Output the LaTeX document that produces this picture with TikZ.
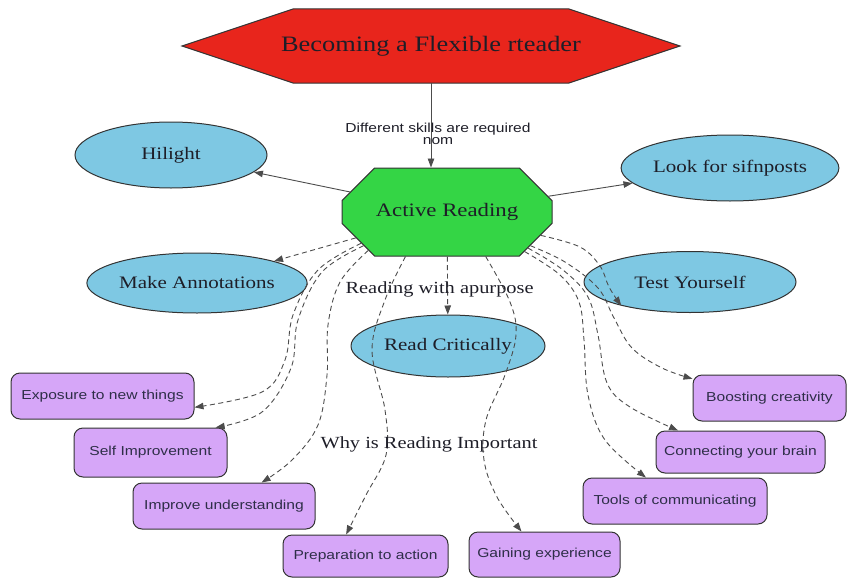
\documentclass[tikz,border=0pt]{standalone}
\usepackage{fontspec}
\newfontfamily\serifS{Liberation Serif}[FakeStretch=1.2]
\newfontfamily\sansS{Liberation Sans}[FakeStretch=1.2]
\usetikzlibrary{shapes.misc,shapes.geometric,arrows.meta}
\definecolor{hexred}{HTML}{E8251C}
\definecolor{octgreen}{HTML}{34D545}
\definecolor{ellblue}{HTML}{7EC8E3}
\definecolor{boxpur}{HTML}{D6A6F8}
\definecolor{outl}{HTML}{333333}
\definecolor{edgec}{HTML}{4C4C4C}
\definecolor{txt}{HTML}{1E1E28}
\definecolor{boxtxt}{HTML}{2E2E48}
\begin{document}
\begin{tikzpicture}[x=1pt,y=-1pt,
  ell/.style={ellipse, draw=outl, line width=1pt, fill=ellblue, inner sep=0pt,
    font=\serifS\fontsize{17.5}{20}\selectfont, text=txt},
  box/.style={rectangle, rounded corners=9pt, draw=outl, line width=1pt, fill=boxpur,
    inner sep=0pt, font=\sansS\fontsize{13}{15}\selectfont, text=boxtxt},
  sedge/.style={draw=edgec, line width=0.9pt, -{Triangle[length=9pt,width=6.5pt]}},
  dedge/.style={sedge, dash pattern=on 5pt off 3.5pt},
  serlab/.style={font=\serifS\fontsize{17}{19}\selectfont, text=txt, inner sep=0pt},
  sanslab/.style={font=\sansS\fontsize{13}{12}\selectfont, text=txt, align=center, inner sep=0pt},
  smoothp/.style={smooth, tension=0.6}
]
\useasboundingbox (0,0) rectangle (850,578);

% title hexagon
\filldraw[fill=hexred, draw=outl, line width=1pt]
  (182,46) -- (293,9) -- (569,9) -- (680,46) -- (569,83) -- (293,83) -- cycle;
\node[rectangle, minimum width=498pt, minimum height=74pt, inner sep=0pt,
  font=\serifS\fontsize{22}{24}\selectfont, text=txt] (title) at (431,46)
  {Becoming a Flexible rteader};
\node[chamfered rectangle, chamfered rectangle xsep=61pt, chamfered rectangle ysep=24pt,
  minimum width=210pt, minimum height=88pt, inner sep=0pt, draw=outl, line width=1pt,
  fill=octgreen, font=\serifS\fontsize{19}{21}\selectfont, text=txt] (ar) at (447,212)
  {Active Reading};

% ellipses
\node[ell, minimum width=192pt, minimum height=66pt] (hil) at (171,155) {Hilight};
\node[ell, minimum width=210pt, minimum height=66pt] (look) at (730,168) {Look for sifnposts};
\node[ell, minimum width=200pt, minimum height=60pt] (annot) at (197,283) {Make Annotations};
\node[ell, minimum width=212pt, minimum height=61pt] (test) at (690,282) {Test Yourself};
\node[ell, minimum width=194pt, minimum height=62pt] (rc) at (448,346) {Read Critically};

% boxes
\node[box, minimum width=183pt, minimum height=46pt] (expo) at (102.5,396) {Exposure to new things};
\node[box, minimum width=153pt, minimum height=49pt] (selfi) at (150.5,452.5) {Self Improvement};
\node[box, minimum width=182pt, minimum height=46pt] (impr) at (224,506) {Improve understanding};
\node[box, minimum width=165pt, minimum height=42pt] (prep) at (365.5,556) {Preparation to action};
\node[box, minimum width=151pt, minimum height=45pt] (gain) at (544.5,554.5) {Gaining experience};
\node[box, minimum width=184pt, minimum height=46pt] (tools) at (675,501) {Tools of communicating};
\node[box, minimum width=169pt, minimum height=42pt] (conn) at (740.5,452) {Connecting your brain};
\node[box, minimum width=153pt, minimum height=46pt] (boost) at (769.5,398) {Boosting creativity};

% edges
\draw[sedge] (title) -- (title |- ar.north)
  node[sanslab, pos=0.6, xshift=7pt] {Different skills are required\\nom};
\draw[sedge] (ar) -- (hil);
\draw[sedge] (ar) -- (look);
\draw[dedge] (ar) -- (annot);
\draw[dedge] (ar) -- (rc) node[serlab, pos=0.56, xshift=-8pt] {Reading with apurpose};

\draw[dedge] plot[smoothp] coordinates {(ar.200.6) (318,270) (293,315) (285,360) (262,392) (expo.353)};
\draw[dedge] plot[smoothp] coordinates {(ar.202) (322,272) (298,320) (291,368) (262,412) (selfi.21)};
\draw[dedge] plot[smoothp] coordinates {(ar.206.6) (340,282) (328,325) (327,375) (318,425) (292,460) (impr.32)};
\draw[dedge] plot[smoothp] coordinates {(ar.227) (385,300) (372,350) (385,410) (386,455) (366,495) (prep.132)};
\draw[dedge] plot[smoothp] coordinates {(ar.311.5) (510,302) (516,335) (505,375) (486,420) (484,460) (497,497) (gain.135)};
\draw[dedge] plot[smoothp] coordinates {(ar.333) (560,275) (579,302) (584,340) (588,395) (605,440) (tools.141)};
\draw[dedge] plot[smoothp] coordinates {(ar.336) (563,270) (588,297) (598,335) (607,383) (630,407) (conn.161)};
\draw[dedge] plot[smoothp] coordinates {(ar.338.5) (565,262) (598,288) (614,318) (632,348) (662,368) (boost.166)};
\draw[dedge] plot[smoothp] coordinates {(ar.346.4) (580,247) (600,266) (609,287) (test.199)};

\node[serlab] (whylab) at (429,444) {Why is Reading Important};
\end{tikzpicture}
\end{document}
